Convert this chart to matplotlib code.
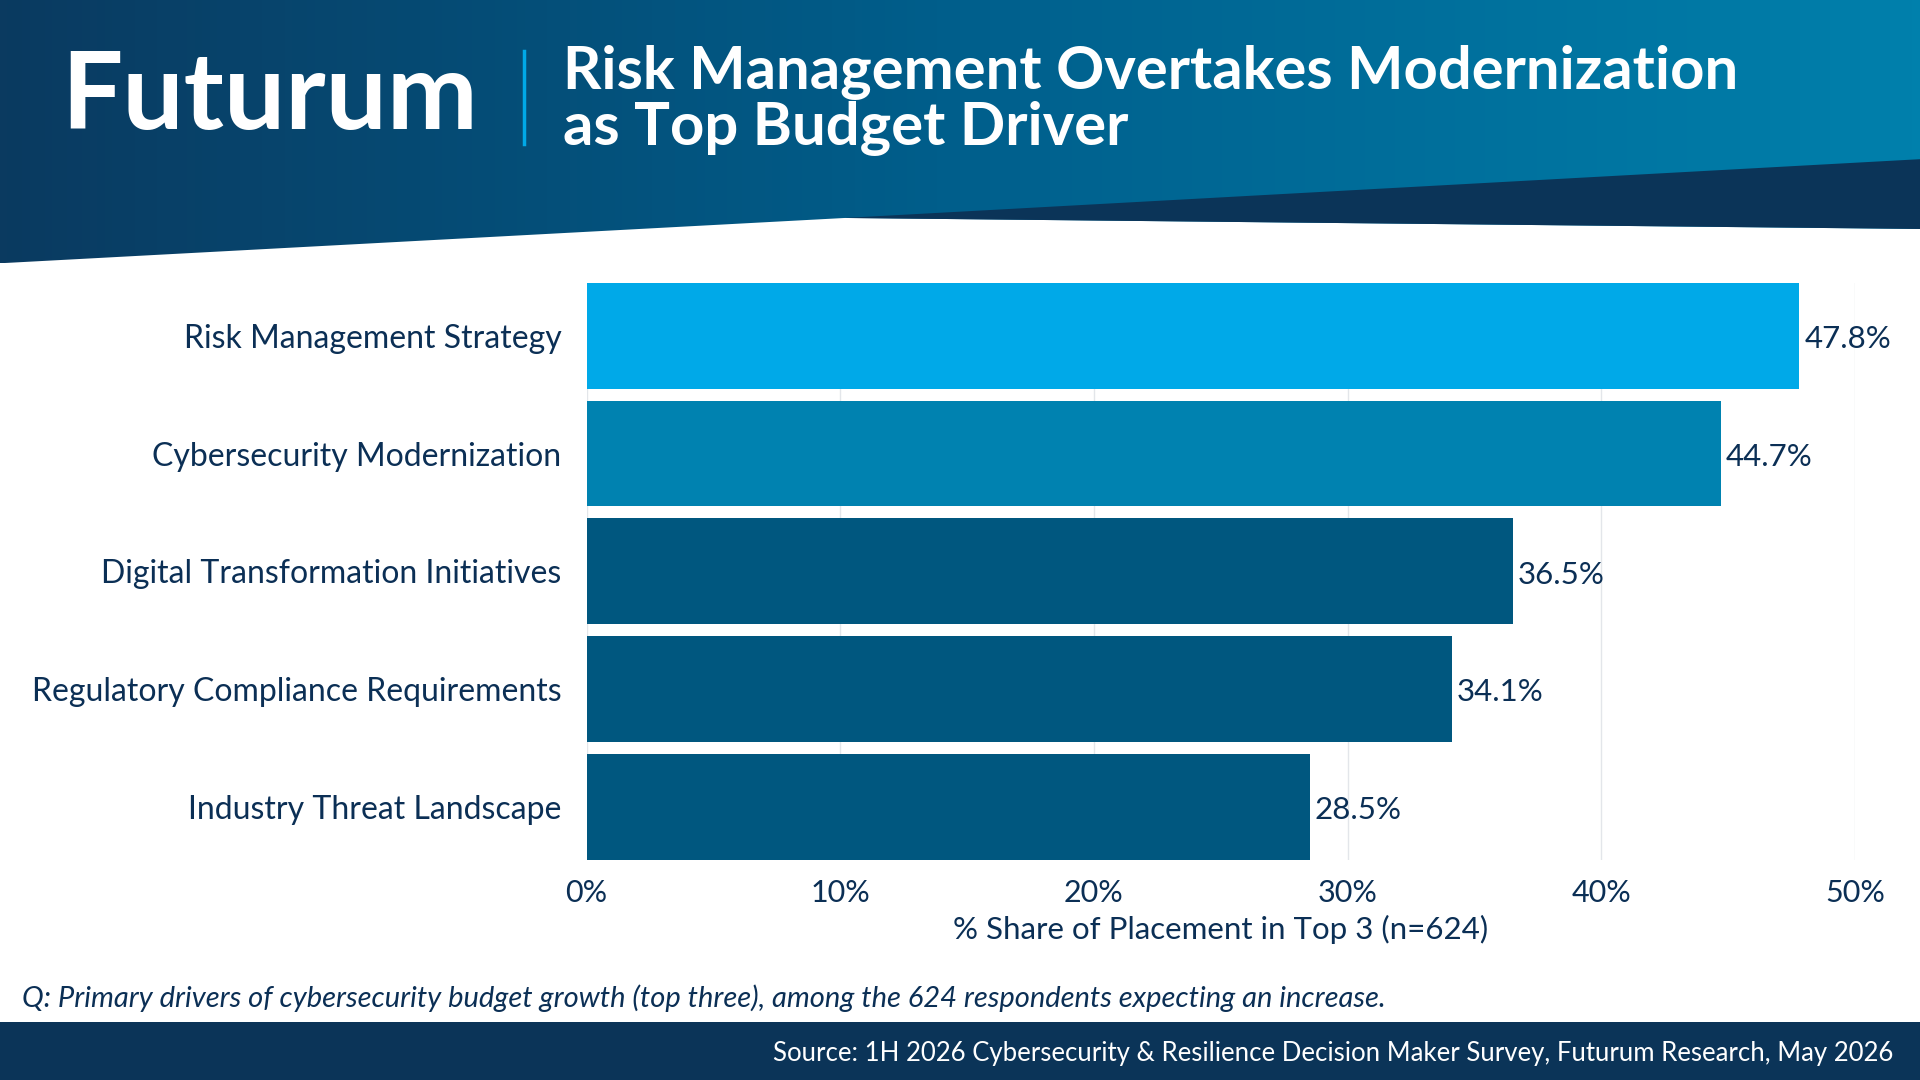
import matplotlib
matplotlib.use("Agg")
import matplotlib.pyplot as plt
import numpy as np
from matplotlib.patches import Polygon
from matplotlib.colors import LinearSegmentedColormap

categories = ["Risk Management Strategy", "Cybersecurity Modernization",
              "Digital Transformation Initiatives", "Regulatory Compliance Requirements",
              "Industry Threat Landscape"]
values = [47.8, 44.7, 36.5, 34.1, 28.5]
bar_colors = ["#00a9e8", "#0082b0", "#00577f", "#00577f", "#00577f"]
xticks = [0, 10, 20, 30, 40, 50]
xtick_labels = ["0%", "10%", "20%", "30%", "40%", "50%"]
title = "Risk Management Overtakes Modernization\nas Top Budget Driver"
xlabel = "% Share of Placement in Top 3 (n=624)"
note = "Q: Primary drivers of cybersecurity budget growth (top three), among the 624 respondents expecting an increase."
source = "Source: 1H 2026 Cybersecurity & Resilience Decision Maker Survey, Futurum Research, May 2026"

plt.rcParams['font.family'] = ['Lato', 'DejaVu Sans']
TXT = "#0b2f55"
W, H = 1568, 882
fig = plt.figure(figsize=(19.2, 10.8), dpi=100)

bg = fig.add_axes([0, 0, 1, 1])
bg.set_xlim(0, W); bg.set_ylim(H, 0); bg.axis("off")
cmap = LinearSegmentedColormap.from_list("g", ["#0a3a60", "#005f8c", "#0080ac"])
grad = np.linspace(0, 1, 256).reshape(1, -1)
im = bg.imshow(grad, extent=[0, W, 215, 0], cmap=cmap, aspect="auto", zorder=1)
hdr = Polygon([(0, 0), (W, 0), (W, 187), (690, 178), (0, 215)], closed=True, transform=bg.transData, facecolor="none", edgecolor="none")
bg.add_patch(hdr); im.set_clip_path(hdr)
bg.add_patch(Polygon([(690, 178), (W, 130), (W, 187)], closed=True, facecolor="#0b3458", edgecolor="none", zorder=2))
bg.add_patch(Polygon([(0, 835), (W, 835), (W, H), (0, H)], closed=True, facecolor="#0b3458", edgecolor="none", zorder=2))
bg.text(50, 80, "Futurum", color="white", fontsize=78, fontweight="bold", va="center", ha="left", zorder=3)
bg.plot([428, 428], [42, 118], color="#00a9e8", lw=2.5, zorder=3)
bg.text(460, 82, title, color="white", fontsize=43, fontweight="bold", va="center", ha="left", linespacing=1.02, zorder=3)
bg.text(18, 815, note, color=TXT, fontsize=21, style="italic", va="center", ha="left", zorder=3)
bg.text(1546, 860, source, color="white", fontsize=18.5, va="center", ha="right", zorder=3)

ax = fig.add_axes([479/W, 1-702/H, (1515-479)/W, (702-231)/H])
y = np.arange(len(categories))
ax.barh(y, values, height=0.9, color=bar_colors, zorder=3)
for yi, v in zip(y, values):
    ax.text(v + 0.2, yi + 0.03, f"{v:.1f}%", va="center", ha="left", fontsize=22.5, color=TXT, zorder=4)
ax.set_ylim(len(categories) - 0.55, -0.45)
ax.set_xlim(0, 50)
ax.set_yticks(y)
ax.set_yticklabels(categories, fontsize=23, color=TXT)
ax.set_xticks(xticks)
ax.set_xticklabels(xtick_labels, fontsize=22, color=TXT)
ax.tick_params(length=0, pad=14)
ax.tick_params(axis="y", pad=18)
ax.set_xlabel(xlabel, fontsize=22.5, color=TXT, labelpad=6)
ax.grid(axis="x", color="#e3e6ea", lw=1, zorder=0)
for s in ax.spines.values():
    s.set_visible(False)
ax.set_facecolor("none")

fig.savefig("out.png", dpi=100)
